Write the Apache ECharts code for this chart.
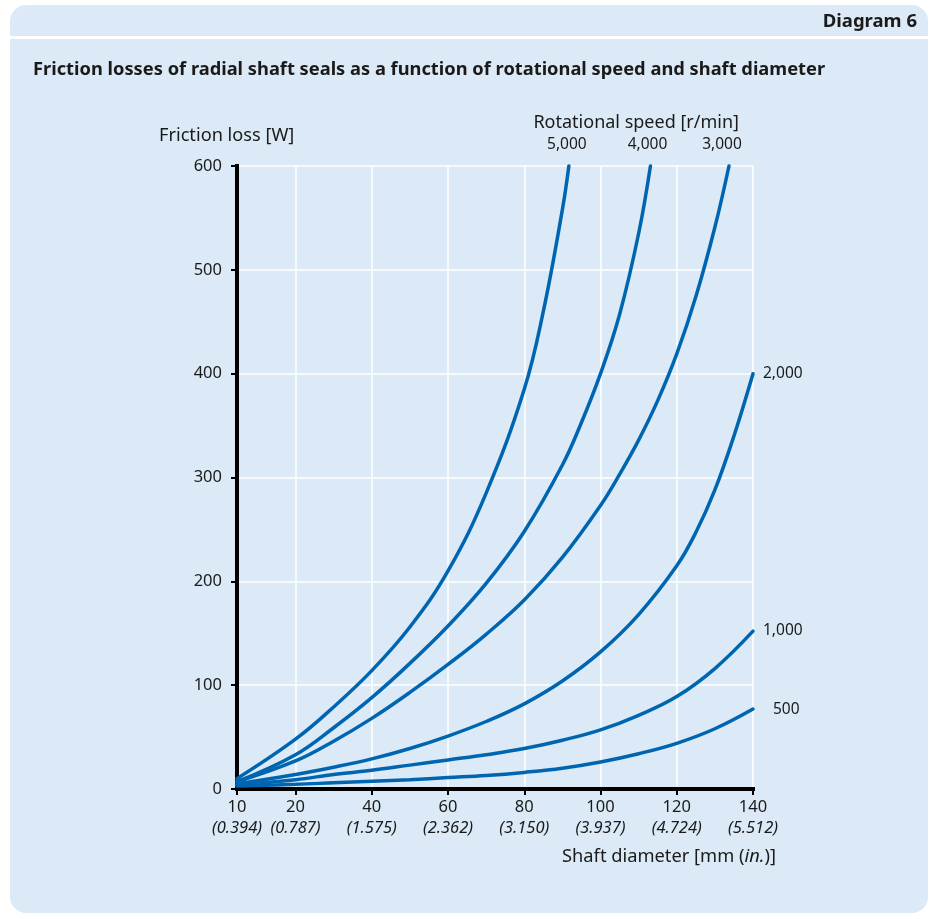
<!DOCTYPE html>
<html><head><meta charset="utf-8">
<script src="https://cdn.jsdelivr.net/npm/echarts@6/dist/echarts.min.js"></script>
<style>html,body{margin:0;padding:0;background:#fff}#c{width:938px;height:919px}</style>
</head><body><div id="c"></div>
<script>
// ---------- data ----------
const xTickValues = [10, 20, 40, 60, 80, 100, 120, 140];          // shaft diameter [mm]
const xTickInches = ['0.394', '0.787', '1.575', '2.362', '3.150', '3.937', '4.724', '5.512'];
const yMin = 0, yMax = 600, yInterval = 100;                          // friction loss [W]
const speedNames = ['5,000', '4,000', '3,000', '2,000', '1,000', '500'];
// [shaft diameter mm, friction loss W]
const speed5000 = [[10,10],[20,48],[30,79],[40,114],[50,156],[60,210],[70,285],[80,385],[85,460],[90,558],[91.7,600]];
const speed4000 = [[10,7],[20,33],[30,59],[40,88],[50,121],[60,157],[70,198],[80,248],[90,312],[95,353],[100,400],[105,457],[110,535],[113.1,600]];
const speed3000 = [[10,7],[20,27],[30,46],[40,68],[50,93],[60,120],[70,149],[80,182],[90,223],[100,273],[105,303],[110,336],[115,374],[120,419],[125,474],[130,541],[133.7,600]];
const speed2000 = [[10,5],[20,14],[30,21],[40,29],[50,39],[60,51],[70,65],[80,82],[90,104],[100,132],[110,168],[120,215],[125,247],[130,288],[135,340],[140,400]];
const speed1000 = [[10,4],[20,9],[30,14],[40,18],[50,23],[60,28],[70,33],[80,39],[90,47],[100,57],[110,71],[120,89],[130,116],[140,152]];
const speed500  = [[10,3],[20,4.5],[30,6],[40,7.5],[50,9],[60,11],[70,13],[80,16],[90,20],[100,26],[110,34],[120,44],[130,58],[140,77]];
const allSpeeds = [speed5000, speed4000, speed3000, speed2000, speed1000, speed500];

// The original diagram draws the 10–20 mm segment wider than the rest of the axis:
// 10 mm sits at the axis origin. AXIS_START is the linear-scale value of that origin.
const AXIS_START = 4.65;
function axisX(d) { return d >= 20 ? d : 20 - (20 - d) * (20 - AXIS_START) / 10; }

// ---------- style ----------
const FONT = '"Noto Sans", sans-serif';
const TXT = '#1a1a1a';
const BLUE = '#0065b1';
const BG = '#dbeaf6';

const chart = echarts.init(document.getElementById('c'), null, {renderer: 'canvas'});

function baseGraphics() {
  return [
    {id: 'card', type: 'rect', z: -100, shape: {x: 10, y: 5, width: 918, height: 908, r: 16}, style: {fill: BG}, silent: true},
    {id: 'sep', type: 'rect', z: -99, shape: {x: 10, y: 36, width: 918, height: 3}, style: {fill: '#ffffff'}, silent: true},
    {id: 'diag', type: 'text', x: 917, y: 22, style: {text: 'Diagram 6', font: 'bold 18.5px ' + FONT, fill: TXT, align: 'right', verticalAlign: 'middle'}},
    {id: 'title', type: 'text', x: 33, y: 70, style: {text: 'Friction losses of radial shaft seals as a function of rotational speed and shaft diameter', font: 'bold 18.3px ' + FONT, fill: TXT, align: 'left', verticalAlign: 'middle'}},
    {id: 'yname', type: 'text', x: 159, y: 136, style: {text: 'Friction loss [W]', font: '18.2px ' + FONT, fill: TXT, align: 'left', verticalAlign: 'middle'}},
    {id: 'sname', type: 'text', x: 739, y: 123, style: {text: 'Rotational speed [r/min]', font: '18px ' + FONT, fill: TXT, align: 'right', verticalAlign: 'middle'}},
    {id: 'xname', type: 'text', x: 776, y: 857, style: {
      text: '{a|Shaft diameter [mm (}{b|in.}{a|)]}', align: 'right', verticalAlign: 'middle',
      rich: {a: {fontFamily: FONT, fontSize: 18.3, fill: TXT}, b: {fontFamily: FONT, fontSize: 18.3, fontStyle: 'italic', fill: TXT}}
    }}
  ];
}

const xCustom = xTickValues.map(axisX);

const option = {
  animation: false,
  textStyle: {fontFamily: FONT},
  grid: {left: 237, top: 166, width: 516, height: 623, containLabel: false},
  xAxis: {
    type: 'value', min: AXIS_START, max: 140,
    axisLine: {show: true, lineStyle: {color: '#000', width: 4, cap: 'square'}},
    axisTick: {show: true, length: 6, customValues: xCustom, lineStyle: {color: '#000', width: 2}},
    axisLabel: {
      show: true, customValues: xCustom, margin: 8, color: TXT,
      formatter: function (v) {
        let i = xCustom.findIndex(c => Math.abs(c - v) < 1e-6);
        if (i < 0) return '';
        return '{n|' + xTickValues[i] + '}\n{i|(' + xTickInches[i] + ')}';
      },
      rich: {
        n: {fontFamily: FONT, fontSize: 16.5, lineHeight: 21, color: TXT},
        i: {fontFamily: FONT, fontSize: 16.5, lineHeight: 21, fontStyle: 'italic', color: TXT}
      }
    },
    splitLine: {show: true, lineStyle: {color: '#ffffff', width: 1.5}}
  },
  yAxis: {
    type: 'value', min: yMin, max: yMax, interval: yInterval,
    axisLine: {show: true, lineStyle: {color: '#000', width: 4, cap: 'square'}},
    axisTick: {show: true, length: 6, lineStyle: {color: '#000', width: 2}},
    axisLabel: {show: true, margin: 15, fontSize: 16.5, color: TXT, fontFamily: FONT},
    splitLine: {show: true, lineStyle: {color: '#ffffff', width: 1.5}}
  },
  series: allSpeeds.map((arr, k) => ({
    type: 'line', name: speedNames[k],
    data: arr.map(p => [axisX(p[0]), p[1]]),
    smooth: 0.4,
    symbol: 'none', clip: false,
    lineStyle: {color: BLUE, width: 3.5, cap: 'round'},
    z: 5
  })),
  graphic: baseGraphics()
};
chart.setOption(option);

// speed labels at the curve ends, positioned through the chart's own scales
const labelPlace = [
  {dx: -2, dy: -21, align: 'center'},
  {dx: -3, dy: -21, align: 'center'},
  {dx: -7, dy: -21, align: 'center'},
  {dx: 10, dy: 0, align: 'left'},
  {dx: 10, dy: -1, align: 'left'},
  {dx: 20, dy: 1, align: 'left'}
];
const g = baseGraphics();
allSpeeds.forEach((arr, k) => {
  const last = arr[arr.length - 1];
  const p = chart.convertToPixel({gridIndex: 0}, [axisX(last[0]), last[1]]);
  const lp = labelPlace[k];
  g.push({id: 'sl' + k, type: 'text', x: p[0] + lp.dx, y: p[1] + lp.dy, z: 10,
    style: {text: speedNames[k], font: '15.5px ' + FONT, fill: TXT, align: lp.align, verticalAlign: 'middle'}});
});
chart.setOption({graphic: g});
</script>
</body></html>
